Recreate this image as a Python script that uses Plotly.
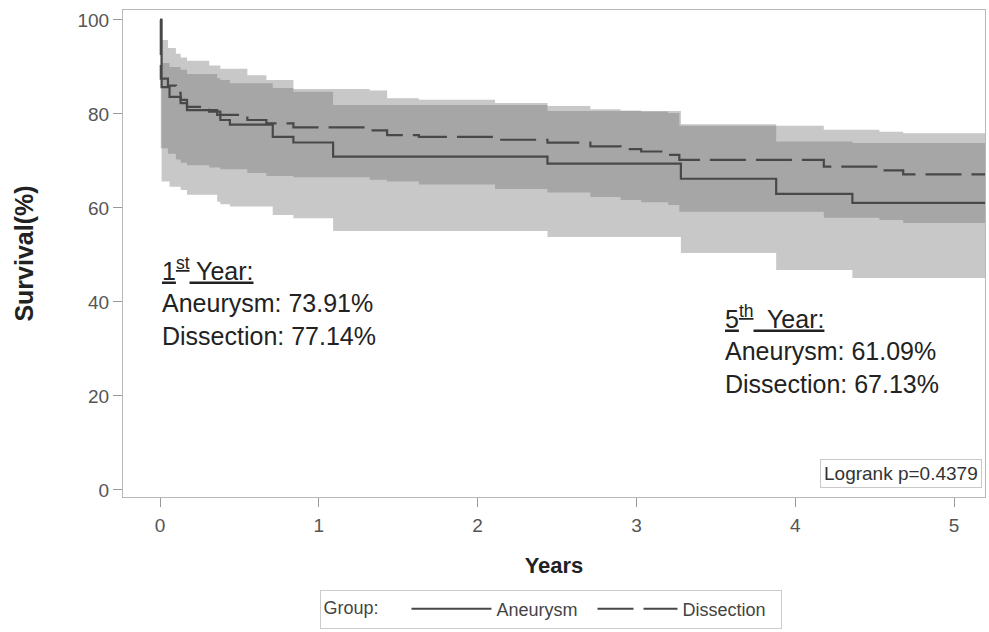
import plotly.graph_objects as go

# ---------------- data ----------------
follow_up_end = 5.2
logrank_p = 0.4379

aneurysm_time = [0, 0.01, 0.06, 0.13, 0.17, 0.36, 0.38, 0.44, 0.71, 0.84, 1.09, 2.44, 3.28, 3.88, 4.36]
aneurysm_surv = [100, 85.7, 83.6, 82.3, 80.8, 79.8, 78.7, 77.7, 75.1, 73.91, 70.9, 69.4, 66.2, 63.0, 61.09]
aneurysm_upper = [100, 90.8, 90.0, 89.4, 88.5, 87.6, 87.2, 86.5, 85.5, 84.7, 81.9, 80.6, 77.8, 74.1, 73.8]
aneurysm_lower = [100, 65.6, 64.5, 63.8, 62.8, 61.3, 60.8, 60.3, 58.5, 57.8, 55.1, 53.8, 50.4, 46.8, 45.1]

dissection_time = [0, 0.005, 0.05, 0.1, 0.13, 0.17, 0.31, 0.38, 0.55, 0.67, 0.84, 1.32, 1.43, 1.63,
                   2.11, 2.44, 2.71, 2.90, 3.03, 3.20, 3.27, 4.18, 4.53, 4.68]
dissection_surv = [100, 87.5, 86.0, 84.5, 83.0, 81.5, 80.5, 79.8, 78.7, 78.0, 77.14, 76.5, 75.5, 75.1,
                   74.5, 73.9, 73.1, 72.5, 72.0, 71.3, 70.2, 68.8, 68.0, 67.13]
dissection_upper = [100, 95.7, 94.0, 92.8, 92.0, 91.3, 90.3, 89.6, 88.2, 87.2, 85.3, 85.0, 83.3, 83.0,
                    82.3, 81.7, 81.0, 80.7, 80.5, 80.2, 77.5, 76.6, 76.2, 75.9]
dissection_lower = [100, 72.7, 71.5, 70.3, 69.6, 69.1, 68.6, 68.2, 67.4, 66.8, 66.5, 66.0, 65.6, 65.0,
                    64.0, 63.3, 62.3, 61.7, 61.2, 60.6, 59.2, 57.9, 57.4, 56.8]

groups = ["Aneurysm", "Dissection"]
x_ticks = [0, 1, 2, 3, 4, 5]
y_ticks = [0, 20, 40, 60, 80, 100]

# ---------------- helpers ----------------
def extend(t, v):
    return list(t) + [follow_up_end], list(v) + [v[-1]]

def surv_at(t, v, year):
    val = v[0]
    for ti, vi in zip(t, v):
        if ti <= year:
            val = vi
    return val

FONT = "Arial, Liberation Sans, sans-serif"
LINE_COLOR = "#484848"
BAND_COLOR = "rgba(110,110,110,0.38)"

series = [
    (groups[0], aneurysm_time, aneurysm_surv, aneurysm_upper, aneurysm_lower, "solid"),
    (groups[1], dissection_time, dissection_surv, dissection_upper, dissection_lower, "36px,10px"),
]

fig = go.Figure()

# confidence bands
for name, t, s, up, lo, dash in series:
    tx, upx = extend(t, up)
    _, lox = extend(t, lo)
    fig.add_trace(go.Scatter(x=tx, y=upx, mode="lines", line=dict(width=0, shape="hv"),
                             showlegend=False, hoverinfo="skip"))
    fig.add_trace(go.Scatter(x=tx, y=lox, mode="lines", line=dict(width=0, shape="hv"),
                             fill="tonexty", fillcolor=BAND_COLOR,
                             showlegend=False, hoverinfo="skip"))

# survival curves
for name, t, s, up, lo, dash in series:
    tx, sx = extend(t, s)
    fig.add_trace(go.Scatter(x=tx, y=sx, mode="lines", name=name + "  ",
                             line=dict(color=LINE_COLOR, width=2.2, shape="hv", dash=dash)))

a1 = surv_at(aneurysm_time, aneurysm_surv, 1)
d1 = surv_at(dissection_time, dissection_surv, 1)
a5 = surv_at(aneurysm_time, aneurysm_surv, 5)
d5 = surv_at(dissection_time, dissection_surv, 5)

ann_font = dict(family=FONT, size=25, color="#222222")
fig.add_annotation(x=0, y=40, xref="x", yref="y", xanchor="left", yanchor="middle",
                   align="left", showarrow=False, font=ann_font,
                   text=f"<u>1<sup>st</sup> Year:</u><br>Aneurysm: {a1:.2f}%<br>Dissection: {d1:.2f}%")
fig.add_annotation(x=3.545, y=29.8, xref="x", yref="y", xanchor="left", yanchor="middle",
                   align="left", showarrow=False, font=ann_font,
                   text=f"<u>5<sup>th</sup>  Year:</u><br>Aneurysm: {a5:.2f}%<br>Dissection: {d5:.2f}%")
fig.add_annotation(x=1, y=0, xref="paper", yref="paper", xanchor="right", yanchor="bottom",
                   xshift=-3, yshift=9, showarrow=False,
                   text=f"Logrank p={logrank_p}",
                   font=dict(family=FONT, size=19, color="#333333"),
                   bordercolor="#c8c8c8", borderwidth=1, borderpad=3, bgcolor="white")

axis_common = dict(showline=True, linecolor="#b8b8b8", linewidth=1.2, mirror=True,
                   ticks="outside", ticklen=9, tickcolor="#9a9a9a", tickwidth=1,
                   showgrid=False, zeroline=False,
                   tickfont=dict(family=FONT, size=19, color="#555555"))

fig.update_layout(
    width=989, height=632,
    margin=dict(l=123, r=4, t=10, b=135),
    plot_bgcolor="white", paper_bgcolor="white",
    xaxis=dict(range=[-0.233, 5.195], tickvals=x_ticks, ticklabelstandoff=2,
               title=dict(text="<b>Years</b>", font=dict(family=FONT, size=22, color="#222222"),
                          standoff=22),
               **axis_common),
    yaxis=dict(range=[-1.5, 102.1], tickvals=y_ticks,
               title=dict(text="<b>Survival(%)</b>", font=dict(family=FONT, size=25, color="#222222"),
                          standoff=36),
               **axis_common),
    legend=dict(orientation="h", x=0.497, xanchor="center", y=-0.19, yanchor="top",
                title=dict(text="Group:    ", font=dict(family=FONT, size=18, color="#444444")),
                font=dict(family=FONT, size=18, color="#444444"),
                bordercolor="#cccccc", borderwidth=1, itemwidth=80,
                traceorder="normal", tracegroupgap=0),
)

fig.write_html("out.html")
